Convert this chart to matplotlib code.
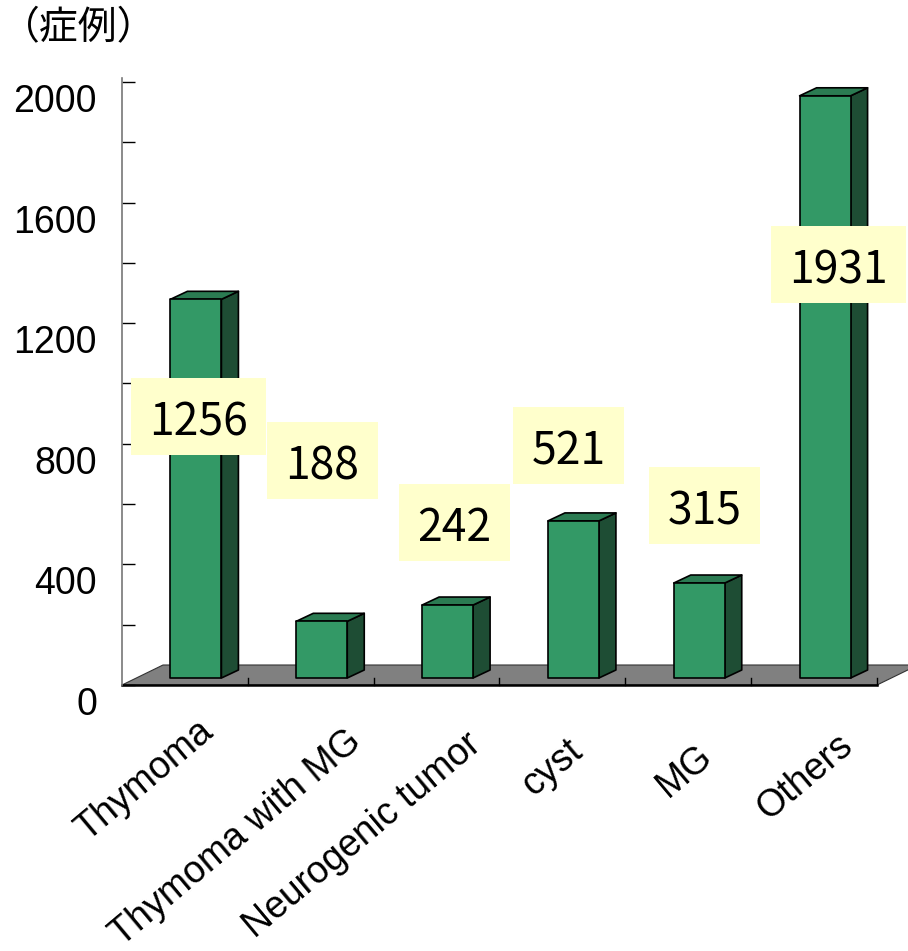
import matplotlib
matplotlib.use("Agg")
import matplotlib.pyplot as plt
from matplotlib.patches import Polygon, Rectangle
from matplotlib.transforms import ScaledTranslation

plt.rcParams['font.family'] = ['Noto Sans CJK JP', 'DejaVu Sans']

# ---- data ----
categories = ["Thymoma", "Thymoma with MG", "Neurogenic tumor", "cyst", "MG", "Others"]
values = [1256, 188, 242, 521, 315, 1931]
y_ticks = list(range(0, 2001, 200))
y_labels = [str(v) if v % 400 == 0 else "" for v in y_ticks]
title = "（症例）"

# ---- layout (pixels) ----
W, H = 908, 951
AX_L, AX_R, AX_B, AX_T = 122, 877, 685, 78
CAT_PX = (AX_R - AX_L) / len(categories)
VAL_PX = 0.3015
YMAX = (AX_B - AX_T) / VAL_PX

def px2x(p):
    return p / CAT_PX

def px2y(p):
    return p / VAL_PX

fig = plt.figure(figsize=(W / 100, H / 100), dpi=100)
ax = fig.add_axes([AX_L / W, (H - AX_B) / H, (AX_R - AX_L) / W, (AX_B - AX_T) / H])
ax.set_xlim(-0.5, len(categories) - 0.5)
ax.set_ylim(0, YMAX)

# floor
FDX, FDY = px2x(41), px2y(20)
n = len(categories)
floor = Polygon([(-0.5, 0), (n - 0.5, 0), (n - 0.5 + FDX, FDY), (-0.5 + FDX, FDY)],
                closed=True, fc='#808080', ec='#333333', lw=0.8, clip_on=False, zorder=1)
ax.add_patch(floor)
ax.plot([-0.5, n - 0.5], [0, 0], color='black', lw=1.8, clip_on=False, zorder=2)
for b in [i + 0.5 for i in range(n)]:
    ax.plot([b, b], [0, px2y(7)], color='black', lw=1, clip_on=False, zorder=2)

# bars
FRONT, SIDE, TOP = '#339966', '#1E4D34', '#2B7B52'
BW = px2x(51)
BOFF = px2x(11)
B0 = px2y(7)
SDX, SDY = px2x(17), px2y(8)
for i, v in enumerate(values):
    x0 = i + BOFF - BW / 2
    x1 = x0 + BW
    b, t = B0, B0 + v
    ax.add_patch(Polygon([(x1, b), (x1 + SDX, b + SDY), (x1 + SDX, t + SDY), (x1, t)],
                         fc=SIDE, ec='black', lw=1.2, clip_on=False, zorder=3, joinstyle='round'))
    ax.add_patch(Polygon([(x0, t), (x1, t), (x1 + SDX, t + SDY), (x0 + SDX, t + SDY)],
                         fc=TOP, ec='black', lw=1.2, clip_on=False, zorder=3, joinstyle='round'))
    ax.add_patch(Rectangle((x0, b), BW, v, fc=FRONT, ec='black', lw=1.2,
                           clip_on=False, zorder=4, joinstyle='round'))

# axis
for s in ['top', 'right', 'bottom']:
    ax.spines[s].set_visible(False)
ax.spines['left'].set_color('#777777')
ax.spines['left'].set_linewidth(1.2)
ax.set_xticks([])
ax.set_yticks(y_ticks)
ax.set_yticklabels(y_labels, family=['Liberation Sans', 'DejaVu Sans'])
ax.tick_params(axis='y', direction='in', length=9.4, width=1, color='black',
               pad=18, labelsize=27)
for lab in ax.get_yticklabels():
    lab.set_transform(lab.get_transform() + ScaledTranslation(0, -0.16, fig.dpi_scale_trans))

# category labels (right end offsets in px from category centre at floor front)
XLAB_OFF = [(30, 50), (52, 59), (46, 63), (22, 69), (26, 74), (40, 64)]
for i, (lab, (dx, dy)) in enumerate(zip(categories, XLAB_OFF)):
    ax.annotate(lab, xy=(i, 0), xytext=(dx * 0.72, -dy * 0.72), textcoords='offset points',
                rotation=40, rotation_mode='anchor', ha='right', va='baseline',
                fontsize=27, family=['Liberation Sans', 'DejaVu Sans'],
                annotation_clip=False)

# value labels in yellow boxes
LAB_DX_PX = [13.5, 11.5, 17.5, 6.5, 16.5, 24]
LAB_Y = [892, 745, 539, 795, 595, 1396]
for i, v in enumerate(values):
    xd = i + px2x(LAB_DX_PX[i])
    yd = LAB_Y[i]
    txt = str(v)
    bw = (39 + 24 * len(txt)) / 100
    bh = 0.77
    trans = fig.dpi_scale_trans + ScaledTranslation(xd, yd, ax.transData)
    ax.add_patch(Rectangle((-bw / 2, -bh / 2), bw, bh, transform=trans,
                           fc='#FFFFCC', ec='none', clip_on=False, zorder=6))
    ax.annotate(txt, xy=(xd, yd), xytext=(0, -6 * 0.72), textcoords='offset points',
                ha='center', va='center', fontsize=32, zorder=7, annotation_clip=False)

fig.text(0.5 / W, 1 - 28 / H, title, ha='left', va='center', fontsize=28)

fig.savefig('out.png', dpi=100)
